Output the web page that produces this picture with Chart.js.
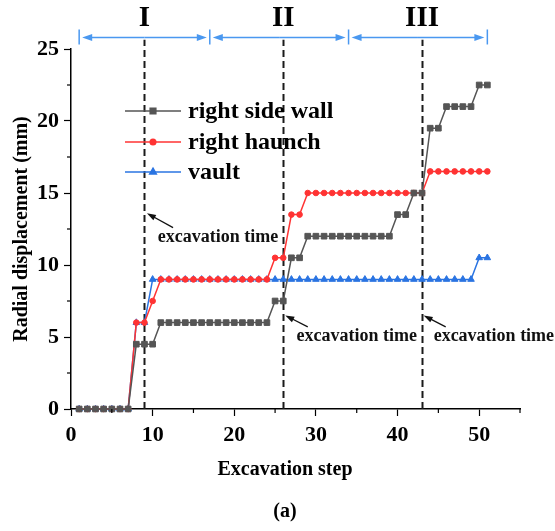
<!DOCTYPE html>
<html>
<head>
<meta charset="utf-8">
<script src="https://cdn.jsdelivr.net/npm/chart.js@4.4.1/dist/chart.umd.min.js"></script>
<style>
  html, body { margin: 0; padding: 0; background: #fff; }
  #wrap { width: 555px; height: 531px; }
</style>
</head>
<body>
<div id="wrap"><canvas id="chart"></canvas></div>
<script>
// excavation steps 1..51
const steps = [];
for (let i = 1; i <= 51; i++) steps.push(i);

// radial displacement (mm)
const sideWall = [0,0,0,0,0,0,0, 4.5,4.5,4.5,
  6,6,6,6,6,6,6,6,6,6,6,6,6,6, 7.5,7.5, 10.5,10.5,
  12,12,12,12,12,12,12,12,12,12,12, 13.5,13.5, 15,15,
  19.5,19.5, 21,21,21,21, 22.5,22.5];
const haunch = [0,0,0,0,0,0,0, 6,6, 7.5,
  9,9,9,9,9,9,9,9,9,9,9,9,9,9, 10.5,10.5, 13.5,13.5,
  15,15,15,15,15,15,15,15,15,15,15,15,15,15,15,
  16.5,16.5,16.5,16.5,16.5,16.5,16.5,16.5];
const vault = [0,0,0,0,0,0,0, 6,6,
  9,9,9,9,9,9,9,9,9,9,9,9,9,9,9,9,9,9,9,9,9,9,9,9,9,9,9,9,9,9,9,9,9,9,9,9,9,9,9,9,
  10.5,10.5];

const seriesNames = ['right side wall', 'right haunch', 'vault'];
const excavationTimes = [9, 26, 43];
const stageBounds = [1, 17, 34, 51];
const stageNames = ['I', 'II', 'III'];
const xTicks = [0, 10, 20, 30, 40, 50];
const yTicks = [0, 5, 10, 15, 20, 25];

const SERIF = '"Liberation Serif", "Times New Roman", serif';
const BLUE = '#2a74e2';

function arrow(ctx, x1, y1, x2, y2, len, half) {
  const a = Math.atan2(y2 - y1, x2 - x1);
  const c = Math.cos(a), s = Math.sin(a);
  ctx.beginPath();
  ctx.moveTo(x1, y1);
  ctx.lineTo(x2 - len * 0.7 * c, y2 - len * 0.7 * s);
  ctx.stroke();
  ctx.beginPath();
  ctx.moveTo(x2, y2);
  ctx.lineTo(x2 - len * c + half * s, y2 - len * s - half * c);
  ctx.lineTo(x2 - len * c - half * s, y2 - len * s + half * c);
  ctx.closePath();
  ctx.fill();
}

const overlay = {
  id: 'overlay',
  beforeDatasetsDraw(chart) {
    const {ctx, scales: {x, y}} = chart;
    // dashed lines at the excavation times
    ctx.save();
    ctx.strokeStyle = '#1a1a1a';
    ctx.lineWidth = 2;
    ctx.setLineDash([7, 4]);
    excavationTimes.forEach(t => {
      const px = Math.round(x.getPixelForValue(t)) + 0.5;
      ctx.beginPath();
      ctx.moveTo(px, y.getPixelForValue(0));
      ctx.lineTo(px, y.getPixelForValue(25.65));
      ctx.stroke();
    });
    ctx.restore();
  },
  afterDraw(chart) {
    const {ctx, scales: {x, y}} = chart;
    ctx.save();

    // minor ticks
    ctx.strokeStyle = '#000';
    ctx.lineWidth = 1.2;
    for (let v = 5; v <= 55; v += 10) {
      const px = x.getPixelForValue(v);
      ctx.beginPath(); ctx.moveTo(px, y.bottom); ctx.lineTo(px, y.bottom + 4); ctx.stroke();
    }
    for (let v = 2.5; v < 25; v += 5) {
      const py = y.getPixelForValue(v);
      ctx.beginPath(); ctx.moveTo(x.left, py); ctx.lineTo(x.left - 4, py); ctx.stroke();
    }

    // stage bars on top
    const by = y.getPixelForValue(25.8);
    ctx.strokeStyle = '#4a98f0';
    ctx.fillStyle = '#4a98f0';
    ctx.lineWidth = 1.5;
    stageBounds.forEach(b => {
      const px = x.getPixelForValue(b);
      ctx.beginPath(); ctx.moveTo(px, by - 8); ctx.lineTo(px, by + 7); ctx.stroke();
    });
    for (let i = 0; i < stageNames.length; i++) {
      const x1 = x.getPixelForValue(stageBounds[i]) + 3;
      const x2 = x.getPixelForValue(stageBounds[i + 1]) - 3;
      const mid = (x1 + x2) / 2;
      arrow(ctx, mid, by, x1, by, 10, 3.5);
      arrow(ctx, mid, by, x2, by, 10, 3.5);
    }
    ctx.fillStyle = '#000';
    ctx.font = 'bold 29px ' + SERIF;
    ctx.textAlign = 'center';
    ctx.textBaseline = 'middle';
    stageNames.forEach((n, i) => {
      ctx.fillText(n, x.getPixelForValue(excavationTimes[i]), 19);
    });

    // "excavation time" notes
    const notes = [
      {head: [9.3, 13.6], tail: [12.5, 12.6], text: [18.0, 11.9]},
      {head: [26.25, 6.5], tail: [29.0, 5.7], text: [35.0, 5.05]},
      {head: [43.2, 6.5], tail: [45.9, 5.7], text: [51.8, 5.05]}
    ];
    ctx.strokeStyle = '#111';
    ctx.fillStyle = '#111';
    ctx.lineWidth = 1.3;
    notes.forEach(n => {
      arrow(ctx, x.getPixelForValue(n.tail[0]), y.getPixelForValue(n.tail[1]),
        x.getPixelForValue(n.head[0]), y.getPixelForValue(n.head[1]), 9, 3);
    });
    ctx.font = 'bold 18px ' + SERIF;
    notes.forEach(n => {
      ctx.fillText('excavation time', x.getPixelForValue(n.text[0]), y.getPixelForValue(n.text[1]));
    });

    // legend
    ctx.font = 'bold 24px ' + SERIF;
    ctx.textAlign = 'left';
    const rows = [111, 142, 172];
    chart.data.datasets.forEach((ds, i) => {
      const ry = rows[i];
      ctx.strokeStyle = ds.borderColor;
      ctx.fillStyle = ds.backgroundColor;
      ctx.lineWidth = 1.5;
      ctx.beginPath(); ctx.moveTo(125, ry); ctx.lineTo(181, ry); ctx.stroke();
      Chart.helpers.drawPoint(ctx, {pointStyle: ds.pointStyle, radius: ds.pointRadius, rotation: 0, borderWidth: 1}, 153, ry);
      ctx.fillStyle = '#000';
      ctx.fillText(ds.label, 188, ry + 1);
    });

    // axis titles and panel label
    ctx.textAlign = 'center';
    ctx.font = 'bold 20px ' + SERIF;
    ctx.fillText('Excavation step', 285, 470);
    ctx.fillText('(a)', 285, 512);
    ctx.translate(22, (y.top + y.bottom) / 2);
    ctx.rotate(-Math.PI / 2);
    ctx.fillText('Radial displacement (mm)', 0, 0);

    ctx.restore();
  }
};

function series(label, values, color, style, r) {
  return {
    label: label,
    data: values.map((v, i) => ({x: steps[i], y: v})),
    borderColor: color,
    backgroundColor: color,
    borderWidth: 1.5,
    pointStyle: style,
    pointRadius: r,
    pointBorderWidth: 1,
    tension: 0,
    clip: false
  };
}

new Chart(document.getElementById('chart'), {
  type: 'line',
  data: {
    datasets: [
      series(seriesNames[0], sideWall, '#555555', 'rect', 4),
      series(seriesNames[1], haunch, '#ff3333', 'circle', 2.8),
      series(seriesNames[2], vault, BLUE, 'triangle', 3.8)
    ]
  },
  options: {
    responsive: true,
    maintainAspectRatio: false,
    animation: false,
    layout: { padding: { left: 0, right: 35, top: 49, bottom: 0 } },
    plugins: { legend: { display: false }, tooltip: { enabled: false } },
    scales: {
      x: {
        type: 'linear', min: 0, max: 55,
        afterFit: s => { s.height = 122; },
        afterBuildTicks: s => { s.ticks = xTicks.map(v => ({value: v})); },
        grid: { drawOnChartArea: false, tickLength: 7, tickWidth: 1.2, tickColor: '#000' },
        border: { display: true, color: '#000', width: 1.5 },
        ticks: { color: '#000', padding: 6, maxRotation: 0, font: { family: SERIF, size: 22, weight: 'bold' } }
      },
      y: {
        type: 'linear', min: 0, max: 25,
        afterFit: s => { s.width = 71; },
        afterBuildTicks: s => { s.ticks = yTicks.map(v => ({value: v})); },
        grid: { drawOnChartArea: false, tickLength: 7, tickWidth: 1.2, tickColor: '#000' },
        border: { display: true, color: '#000', width: 1.5 },
        ticks: { color: '#000', padding: 5, font: { family: SERIF, size: 22, weight: 'bold' } }
      }
    }
  },
  plugins: [overlay]
});
</script>
</body>
</html>
